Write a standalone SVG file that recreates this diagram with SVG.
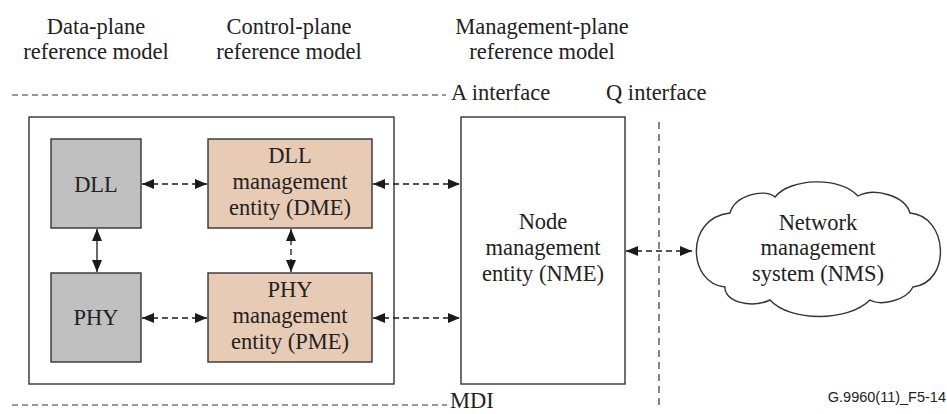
<svg xmlns="http://www.w3.org/2000/svg" width="947" height="414" viewBox="0 0 947 414">
<defs>
<marker id="ah" viewBox="0 0 12 10" refX="12" refY="5" markerWidth="12" markerHeight="10" markerUnits="userSpaceOnUse" orient="auto-start-reverse">
<path d="M0,0 L12,5 L0,10 Z" fill="#1a1a1a"/>
</marker>
<style>
text{font-family:"Liberation Serif","Times New Roman",serif;font-size:22.5px;fill:#222;text-anchor:middle}
.l{text-anchor:start}
.box{stroke:#333;stroke-width:1.4}
.grey{fill:#c0c0c0}
.tan{fill:#e8cbb5}
.w{fill:#fff}
.c{stroke:#1a1a1a;stroke-width:1.3;fill:none;marker-start:url(#ah);marker-end:url(#ah)}
.d{stroke-dasharray:6 4}
.if{stroke:#333;stroke-width:1.2;stroke-dasharray:6 4;fill:none}
.q{stroke:#333;stroke-width:1.2;stroke-dasharray:7 5;fill:none}
</style>
</defs>
<rect width="947" height="414" fill="#fff"/>
<g id="headers">
<text x="96" y="34">Data-plane</text>
<text x="96" y="59">reference model</text>
<text x="289" y="34">Control-plane</text>
<text x="289" y="59">reference model</text>
<text x="542" y="34">Management-plane</text>
<text x="542" y="59">reference model</text>
</g>
<g id="interfaces">
<line class="if" x1="12" y1="95" x2="446" y2="95"/>
<text class="l" x="451" y="100">A interface</text>
<text class="l" x="606" y="100">Q interface</text>
<line class="q" x1="659" y1="122" x2="659" y2="408"/>
<line class="if" x1="12" y1="405" x2="447" y2="405"/>
<text class="l" x="450" y="408">MDI</text>
</g>
<g id="node-container"><rect class="box w" x="29" y="117" width="365" height="267"/></g>
<g id="dll"><rect class="box grey" x="51" y="139" width="90" height="89"/><text x="96" y="192">DLL</text></g>
<g id="phy"><rect class="box grey" x="51" y="273" width="90" height="89"/><text x="96" y="325">PHY</text></g>
<g id="dme"><rect class="box tan" x="208" y="139" width="164" height="89"/>
<text x="290" y="163">DLL</text><text x="290" y="189">management</text><text x="290" y="215">entity (DME)</text></g>
<g id="pme"><rect class="box tan" x="208" y="273" width="164" height="89"/>
<text x="290" y="297">PHY</text><text x="290" y="323">management</text><text x="290" y="349">entity (PME)</text></g>
<g id="nme"><rect class="box w" x="461" y="117" width="164" height="267"/>
<text x="543" y="229">Node</text><text x="543" y="255">management</text><text x="543" y="281">entity (NME)</text></g>
<g id="nms"><path class="box w" d="M730,213 C735,195 765,188 775,197 C790,178 840,176 858,196 C875,187 905,196 910,213 C948,216 952,282 913,287 C906,301 880,306 870,300 C848,322 790,322 770,300 C750,309 724,301 725,287 C688,284 684,218 730,213 Z"/>
<text x="818" y="230">Network</text><text x="818" y="255">management</text><text x="818" y="281">system (NMS)</text></g>
<g id="connectors">
<line class="c d" x1="142" y1="184" x2="207" y2="184"/>
<line class="c d" x1="142" y1="318" x2="207" y2="318"/>
<line class="c d" x1="373" y1="184" x2="460" y2="184"/>
<line class="c d" x1="373" y1="318" x2="460" y2="318"/>
<line class="c" x1="97" y1="229" x2="97" y2="272"/>
<line class="c d" x1="291" y1="229" x2="291" y2="272"/>
<line class="c d" x1="626" y1="251" x2="692" y2="251"/>
</g>
<text id="ref" x="946" y="402" style="font-family:'Liberation Sans',Arial,sans-serif;font-size:14.5px;text-anchor:end">G.9960(11)_F5-14</text>
</svg>
